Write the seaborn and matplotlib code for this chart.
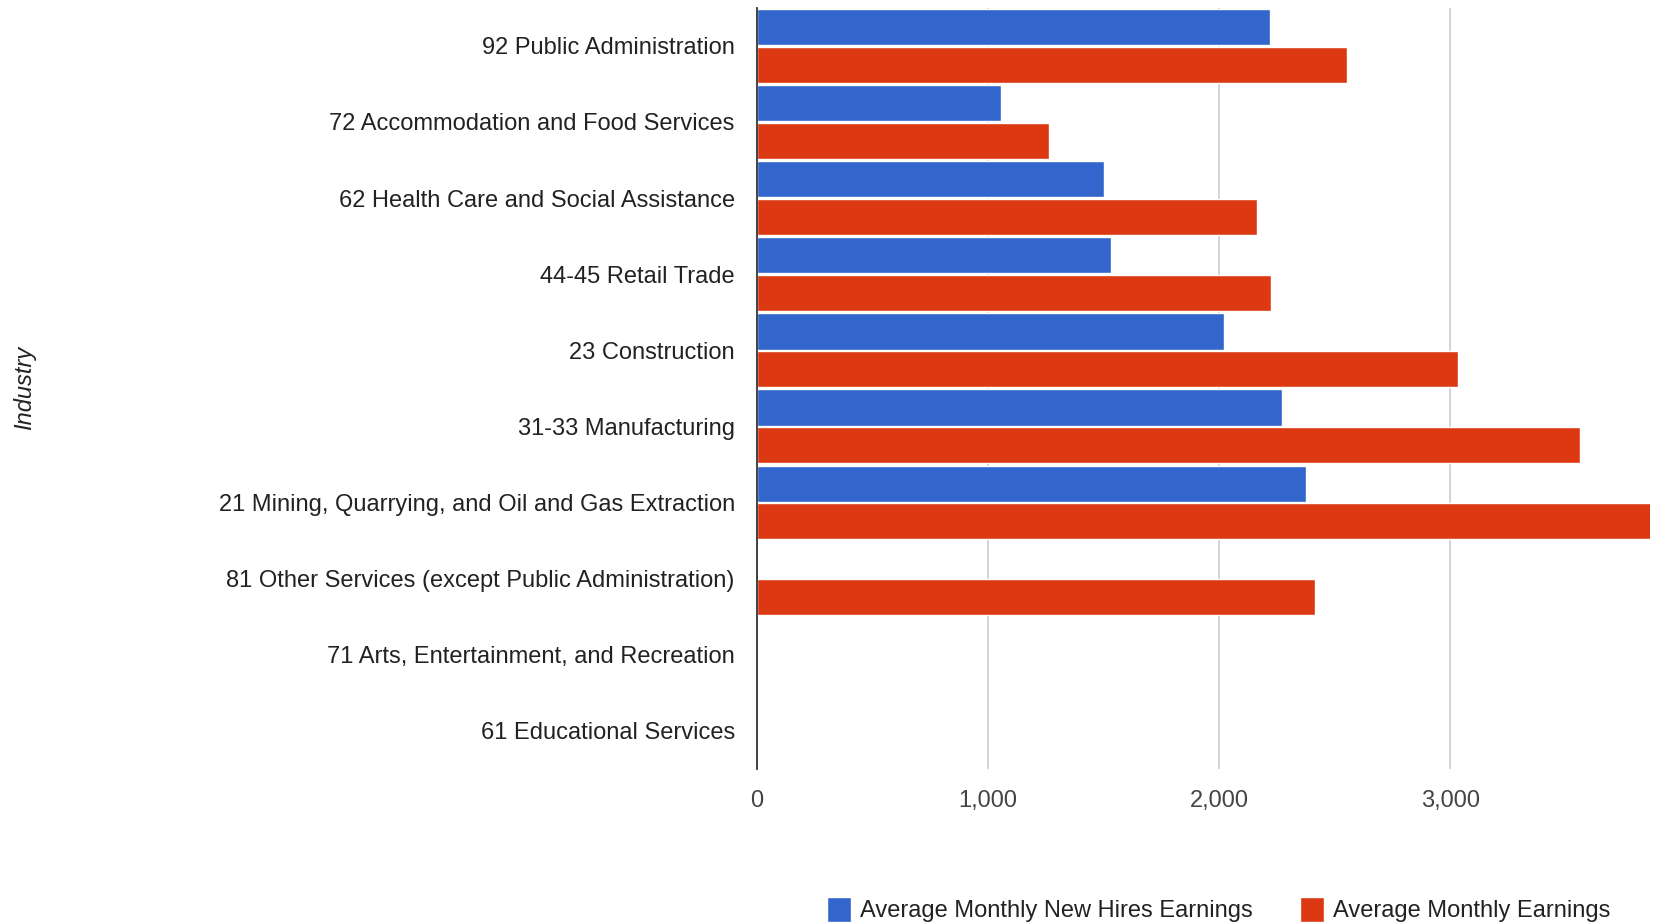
import numpy as np
import pandas as pd
import matplotlib
matplotlib.use("Agg")
import matplotlib.pyplot as plt
import seaborn as sns

# --- data ---
industries = [
    "92 Public Administration",
    "72 Accommodation and Food Services",
    "62 Health Care and Social Assistance",
    "44-45 Retail Trade",
    "23 Construction",
    "31-33 Manufacturing",
    "21 Mining, Quarrying, and Oil and Gas Extraction",
    "81 Other Services (except Public Administration)",
    "71 Arts, Entertainment, and Recreation",
    "61 Educational Services",
]
new_hires = [2221, 1054, 1503, 1530, 2020, 2270, 2377, np.nan, np.nan, np.nan]
all_earnings = [2554, 1262, 2164, 2224, 3033, 3563, 3950, 2416, np.nan, np.nan]
series_names = ["Average Monthly New Hires Earnings", "Average Monthly Earnings"]
x_ticks = [0, 1000, 2000, 3000]

df = pd.DataFrame({
    "Industry": industries * 2,
    "Earnings": new_hires + all_earnings,
    "Series": [series_names[0]] * len(industries) + [series_names[1]] * len(industries),
})

sns.set_theme(style="white")
plt.rcParams["font.family"] = ["Liberation Sans", "DejaVu Sans"]

fig, ax = plt.subplots(figsize=(16.72, 9.24), dpi=100)
fig.subplots_adjust(left=0.4528, right=0.987, top=0.9915, bottom=0.168)

sns.barplot(
    data=df, y="Industry", x="Earnings", hue="Series", order=industries,
    hue_order=series_names, palette=["#3366CC", "#DC3912"],
    orient="h", errorbar=None, width=0.99, gap=0.04, ax=ax, legend=True,
    saturation=1,
)

ax.set_xlim(0, 3865)
ax.set_ylim(len(industries) - 0.5, -0.5)
ax.set_xticks(x_ticks)
ax.set_xticklabels([f"{v:,}" for v in x_ticks])
ax.xaxis.grid(True, color="#cccccc", linewidth=1.2)
ax.set_axisbelow(True)
for s in ["top", "right", "bottom"]:
    ax.spines[s].set_visible(False)
ax.spines["left"].set_color("#333333")
ax.spines["left"].set_linewidth(1.3)

ax.tick_params(axis="y", length=0, pad=16, labelsize=17, labelcolor="#222222")
ax.tick_params(axis="x", length=0, pad=15, labelsize=17, labelcolor="#444444")
ax.set_xlabel("")
ax.set_ylabel("")
# axis title sits at the far left of the figure
fig.text(0.0147, 0.58, "Industry", rotation=90, fontsize=17, style="italic",
         color="#222222", ha="center", va="center")

handles, labels = ax.get_legend_handles_labels()
ax.get_legend().remove()
fig.legend(handles, labels, loc="lower center", bbox_to_anchor=(0.729, -0.021),
           ncol=2, frameon=False, fontsize=17, handlelength=1.0, handleheight=1.25,
           handletextpad=0.4, columnspacing=2.0, labelcolor="#222222")

fig.savefig("out.png", dpi=100)
